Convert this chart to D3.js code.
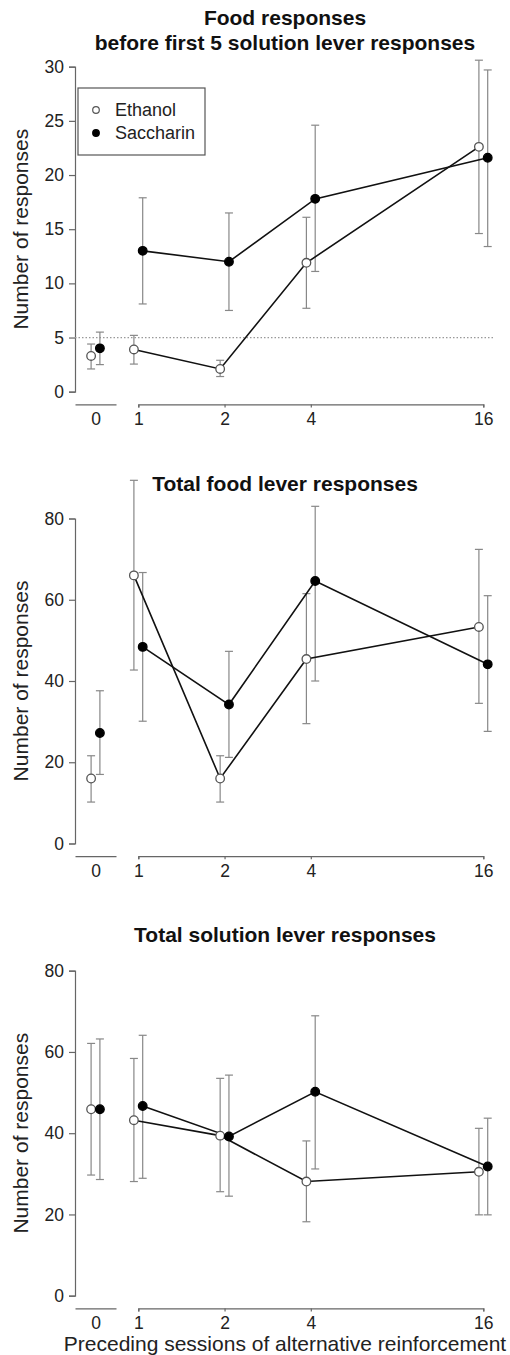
<!DOCTYPE html>
<meta charset="utf-8">
<style>
body { margin: 0; background: #fff; }
svg { font-family: "Liberation Sans", Arial, sans-serif; }
.axis path, .axis line { stroke: #666; stroke-width: 1.2; }
.axis text { fill: #222; font-size: 17.5px; }
.title { font-weight: bold; font-size: 21px; fill: #111; text-anchor: middle; }
.ylab, .xlab { font-size: 21px; fill: #222; text-anchor: middle; }
.err { stroke: #888; stroke-width: 1.2; fill: none; }
.line { stroke: #111; stroke-width: 1.6; fill: none; }
</style>
<body></body>
<script src="https://d3js.org/d3.v7.min.js"></script>
<script>

// sessions of alternative reinforcement (0 is drawn on its own axis segment)
var sessions = [0, 1, 2, 4, 16];

// panel 1: food responses before first 5 solution lever responses
var foodFirstEthanol     = [3.3, 3.9, 2.1, 11.9, 22.6];
var foodFirstEthanolLo   = [2.1, 2.55, 1.4, 7.7, 14.6];
var foodFirstEthanolHi   = [4.4, 5.2, 2.9, 16.1, 30.6];
var foodFirstSaccharin   = [4.0, 13.0, 12.0, 17.8, 21.6];
var foodFirstSaccharinLo = [2.5, 8.1, 7.5, 11.1, 13.4];
var foodFirstSaccharinHi = [5.5, 17.9, 16.5, 24.6, 29.7];

// panel 2: total food lever responses
var foodTotalEthanol     = [16.0, 66.0, 16.0, 45.4, 53.3];
var foodTotalEthanolLo   = [10.2, 42.7, 10.2, 29.5, 34.5];
var foodTotalEthanolHi   = [21.6, 89.4, 21.6, 61.5, 72.4];
var foodTotalSaccharin   = [27.2, 48.4, 34.2, 64.6, 44.1];
var foodTotalSaccharinLo = [17.0, 30.1, 21.2, 40.0, 27.6];
var foodTotalSaccharinHi = [37.6, 66.7, 47.3, 83.0, 61.0];

// panel 3: total solution lever responses
var solTotalEthanol     = [45.9, 43.2, 39.4, 28.1, 30.5];
var solTotalEthanolLo   = [29.7, 28.1, 25.6, 18.2, 19.9];
var solTotalEthanolHi   = [62.1, 58.4, 53.5, 38.1, 41.2];
var solTotalSaccharin   = [45.9, 46.7, 39.2, 50.2, 31.8];
var solTotalSaccharinLo = [28.6, 28.9, 24.5, 31.2, 19.9];
var solTotalSaccharinHi = [63.2, 64.1, 54.3, 68.9, 43.7];

var yTicks1 = [0, 5, 10, 15, 20, 25, 30];
var yTicks2 = [0, 20, 40, 60, 80];
var xTicks = [1, 2, 4, 16];

var panels = [
  { title: ["Food responses", "before first 5 solution lever responses"], ymax: 30, ticks: yTicks1,
    eth: [foodFirstEthanol, foodFirstEthanolLo, foodFirstEthanolHi],
    sac: [foodFirstSaccharin, foodFirstSaccharinLo, foodFirstSaccharinHi], criterion: 5, legend: true },
  { title: ["Total food lever responses"], ymax: 80, ticks: yTicks2,
    eth: [foodTotalEthanol, foodTotalEthanolLo, foodTotalEthanolHi],
    sac: [foodTotalSaccharin, foodTotalSaccharinLo, foodTotalSaccharinHi] },
  { title: ["Total solution lever responses"], ymax: 80, ticks: yTicks2,
    eth: [solTotalEthanol, solTotalEthanolLo, solTotalEthanolHi],
    sac: [solTotalSaccharin, solTotalSaccharinLo, solTotalSaccharinHi] }
];

var W = 510, H = 1355;
var svg = d3.select("body").append("svg").attr("width", W).attr("height", H);

var left = 75, right = 495, plotH = 325;
var xLog = d3.scaleLog().base(2).domain([1, 16]).range([138.3, 483.3]);
var xZero = d3.scaleLinear().domain([-1, 1]).range([75, 116]);
var off = 4.4; // ethanol left, saccharin right

function xpos(s, shift) {
  return (s === 0 ? xZero(0) : xLog(s)) + shift;
}

var tops = [66.7, 518.5, 970.7];
var titleBase = [[25, 50], [490.7], [942]];

panels.forEach(function(p, pi) {
  var top = tops[pi], bottom = top + plotH;
  var y = d3.scaleLinear().domain([0, p.ymax]).range([bottom, top]);
  var g = svg.append("g");

  // titles
  p.title.forEach(function(t, ti) {
    g.append("text").attr("class", "title")
      .attr("x", (left + right) / 2).attr("y", titleBase[pi][ti]).text(t);
  });

  // y axis
  g.append("g").attr("class", "axis")
    .attr("transform", "translate(" + left + ",0)")
    .call(d3.axisLeft(y).tickValues(p.ticks).tickSizeOuter(0).tickSize(6).tickPadding(5));

  g.append("text").attr("class", "ylab")
    .attr("transform", "translate(28," + (top + bottom) / 2 + ") rotate(-90)")
    .text("Number of responses");

  // x axes (two segments)
  var axY = bottom + 12.7;
  g.append("g").attr("class", "axis")
    .attr("transform", "translate(0," + axY + ")")
    .call(d3.axisBottom(xLog).tickValues(xTicks).tickFormat(d3.format("d"))
      .tickSizeOuter(0).tickSize(3).tickPadding(5));
  g.append("g").attr("class", "axis")
    .attr("transform", "translate(0," + axY + ")")
    .call(d3.axisBottom(xZero).tickValues([0]).tickFormat(d3.format("d"))
      .tickSizeOuter(0).tickSize(0).tickPadding(8));

  // criterion line
  if (p.criterion) {
    g.append("line")
      .attr("x1", left).attr("x2", 493)
      .attr("y1", y(p.criterion)).attr("y2", y(p.criterion))
      .attr("stroke", "#999").attr("stroke-width", 1.2).attr("stroke-dasharray", "1.5,2");
  }

  var groups = [
    { d: p.eth, shift: -off, fill: "#fff", stroke: "#555" },
    { d: p.sac, shift: off, fill: "#000", stroke: "#000" }
  ];

  // error bars
  groups.forEach(function(gr) {
    sessions.forEach(function(s, i) {
      var x = xpos(s, gr.shift), lo = y(gr.d[1][i]), hi = y(gr.d[2][i]);
      g.append("line").attr("class", "err").attr("x1", x).attr("x2", x).attr("y1", lo).attr("y2", hi);
      [lo, hi].forEach(function(yy) {
        g.append("line").attr("class", "err").attr("x1", x - 4).attr("x2", x + 4).attr("y1", yy).attr("y2", yy);
      });
    });
  });

  // lines (sessions 1..16 only)
  var line = d3.line()
    .x(function(d) { return xpos(d.s, d.shift); })
    .y(function(d) { return y(d.v); });
  groups.forEach(function(gr) {
    var pts = sessions.map(function(s, i) { return { s: s, v: gr.d[0][i], shift: gr.shift }; })
      .filter(function(d) { return d.s > 0; });
    g.append("path").attr("class", "line").attr("d", line(pts));
  });

  // points
  groups.forEach(function(gr) {
    g.selectAll(null).data(sessions).enter().append("circle")
      .attr("cx", function(s) { return xpos(s, gr.shift); })
      .attr("cy", function(s, i) { return y(gr.d[0][i]); })
      .attr("r", 4.3)
      .attr("fill", gr.fill).attr("stroke", gr.stroke).attr("stroke-width", 1.3);
  });

  // legend
  if (p.legend) {
    var lg = g.append("g");
    lg.append("rect").attr("x", 78).attr("y", 88).attr("width", 127).attr("height", 67)
      .attr("fill", "#fff").attr("stroke", "#555").attr("stroke-width", 1.2);
    var items = [["Ethanol", "#fff", "#555"], ["Saccharin", "#000", "#000"]];
    items.forEach(function(it, k) {
      var yy = 110 + k * 23;
      lg.append("circle").attr("cx", 96).attr("cy", yy).attr("r", 3.3)
        .attr("fill", it[1]).attr("stroke", it[2]).attr("stroke-width", 1.2);
      lg.append("text").attr("x", 115).attr("y", yy + 6.3)
        .style("font-size", "18px").style("fill", "#222").text(it[0]);
    });
  }
});

svg.append("text").attr("class", "xlab")
  .attr("x", 285).attr("y", 1351)
  .text("Preceding sessions of alternative reinforcement");

</script>
